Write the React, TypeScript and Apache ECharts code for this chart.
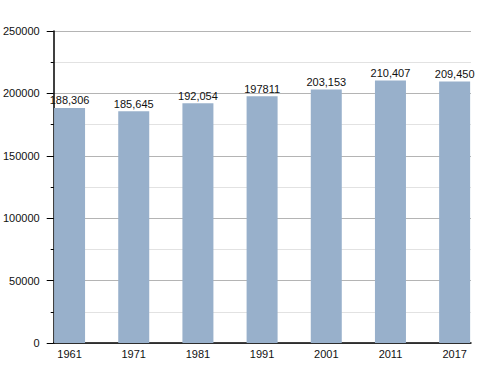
import React, { useEffect, useRef } from "react";
import * as echarts from "echarts";

const years = ["1961", "1971", "1981", "1991", "2001", "2011", "2017"];
const population = [188306, 185645, 192054, 197811, 203153, 210407, 209450];
const valueLabels = ["188,306", "185,645", "192,054", "197811", "203,153", "210,407", "209,450"];

export default function App() {
  const ref = useRef<HTMLDivElement>(null);
  useEffect(() => {
    if (!ref.current) return;
    const chart = echarts.init(ref.current, null, { renderer: "svg" });
    const positions = years.map((_, i) => i);
    chart.setOption({
      animation: false,
      backgroundColor: "#ffffff",
      textStyle: { fontFamily: "Liberation Sans, Arial, sans-serif" },
      grid: { left: 50, right: 29, top: 31, bottom: 30, containLabel: false },
      xAxis: {
        type: "value",
        min: -0.247,
        max: 6.255,
        axisLine: { show: true, onZero: false, lineStyle: { color: "#000", width: 1.5 } },
        axisTick: { show: false },
        splitLine: { show: false },
        axisLabel: {
          customValues: positions,
          formatter: (v: number) => years[Math.round(v)] ?? "",
          color: "#111",
          fontSize: 11,
          margin: 5,
        },
      },
      yAxis: {
        type: "value",
        min: 0,
        max: 250000,
        interval: 50000,
        axisLine: { show: true, onZero: false, lineStyle: { color: "#000", width: 1.5 } },
        axisTick: { show: true, length: 7, lineStyle: { color: "#000" } },
        minorTick: { show: true, splitNumber: 2, length: 3, lineStyle: { color: "#000" } },
        splitLine: { show: true, lineStyle: { color: "#b4b4b4", width: 1 } },
        minorSplitLine: { show: true, lineStyle: { color: "#e2e2e2", width: 1 } },
        axisLabel: {
          color: "#111",
          fontSize: 11,
          margin: 14,
          formatter: (v: number) => String(v),
        },
      },
      series: [
        {
          type: "bar",
          barWidth: 31,
          data: population.map((v, i) => [i, v]),
          itemStyle: { color: "#98b0cb" },
          label: {
            show: true,
            position: "top",
            distance: 2,
            color: "#111",
            fontSize: 11,
            formatter: (p: any) => valueLabels[p.dataIndex],
          },
        },
      ],
    });
    return () => chart.dispose();
  }, []);
  return (
    <div
      ref={ref}
      style={{ position: "fixed", left: 0, top: 0, width: 500, height: 373 }}
    />
  );
}
